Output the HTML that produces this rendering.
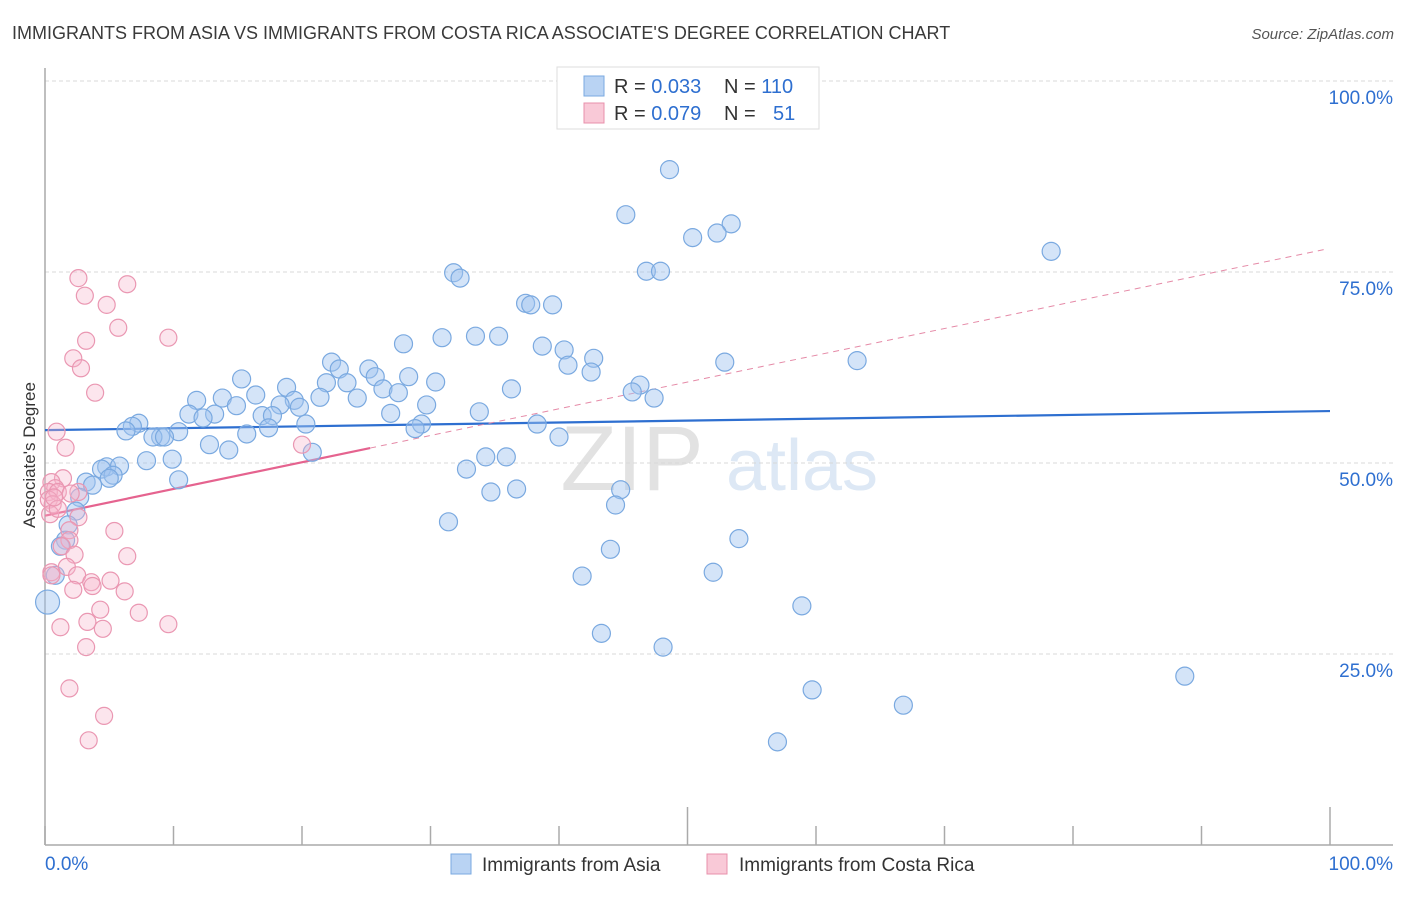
<!DOCTYPE html>
<html><head><meta charset="utf-8"><style>
body{margin:0;background:#fff;font-family:"Liberation Sans",sans-serif}
svg text{font-family:"Liberation Sans",sans-serif}
</style></head><body>
<svg id="chart" width="1406" height="892" viewBox="0 0 1406 892">
<text x="12" y="39" font-size="18" fill="#3a3a3a">IMMIGRANTS FROM ASIA VS IMMIGRANTS FROM COSTA RICA ASSOCIATE'S DEGREE CORRELATION CHART</text>
<text x="1394" y="39" font-size="15" fill="#555" font-style="italic" text-anchor="end">Source: ZipAtlas.com</text>
<g>
<text x="632" y="490" font-size="92" fill="#e2e2e2" font-family="Liberation Serif" text-anchor="middle">ZIP</text>
<text x="802" y="490" font-size="72" fill="#dde8f5" text-anchor="middle">atlas</text>
</g>
<g id="grid"></g>
<g id="axes"></g>
<g id="trend"></g>
<g id="pts"></g>
<text x="35" y="455" font-size="17" fill="#333" text-anchor="middle" transform="rotate(-90 35 455)">Associate's Degree</text>
<g>
<rect x="557" y="67" width="262" height="62" fill="#fff" stroke="#ddd"/>
<rect x="584" y="76" width="20" height="20" fill="#b9d3f3" stroke="#7aa9e0"/>
<rect x="584" y="103" width="20" height="20" fill="#f9c9d7" stroke="#e890ab"/>
<text x="614" y="93" font-size="20" fill="#333">R = <tspan fill="#2e6fd0">0.033</tspan><tspan x="724">N = </tspan><tspan fill="#2e6fd0">110</tspan></text>
<text x="614" y="120" font-size="20" fill="#333">R = <tspan fill="#2e6fd0">0.079</tspan><tspan x="724">N = </tspan><tspan fill="#2e6fd0" x="773">51</tspan></text>
</g>
<g>
<rect x="451" y="854" width="20" height="20" fill="#b9d3f3" stroke="#7aa9e0"/>
<text x="482" y="871" font-size="19" fill="#333">Immigrants from Asia</text>
<rect x="707" y="854" width="20" height="20" fill="#f9c9d7" stroke="#e890ab"/>
<text x="739" y="871" font-size="19" fill="#333">Immigrants from Costa Rica</text>
</g>
</svg>
<script>
const asiaX=[48.6,45.2,53.4,52.3,50.4,78.3,31.8,32.3,46.8,47.9,37.4,37.8,39.5,30.9,33.5,35.3,27.9,38.7,40.4,42.7,40.7,42.5,52.9,63.2,22.3,22.9,25.2,25.7,23.5,21.9,28.3,30.4,15.3,18.8,26.3,27.5,24.3,21.4,36.3,46.3,45.7,47.4,16.4,13.8,11.8,19.4,19.8,18.3,14.9,29.7,26.9,33.8,11.2,13.2,12.3,16.9,17.7,17.4,20.3,29.3,28.8,38.3,7.3,6.8,6.3,10.4,9.0,8.4,9.3,15.7,40.0,12.8,14.3,20.8,7.9,9.9,34.3,35.9,32.8,4.8,4.4,5.8,5.3,10.4,3.2,3.7,34.7,36.7,44.8,2.7,44.4,2.4,31.4,1.8,54.0,1.6,1.2,44.0,52.0,41.8,0.8,0.2,58.9,43.3,48.1,88.7,59.7,66.8,57.0,5.0];
const asiaY=[88.4,82.5,81.3,80.1,79.5,77.7,74.9,74.2,75.1,75.1,70.9,70.7,70.7,66.4,66.6,66.6,65.6,65.3,64.8,63.7,62.8,61.9,63.2,63.4,63.2,62.3,62.3,61.3,60.5,60.5,61.3,60.6,61.0,59.9,59.7,59.2,58.5,58.6,59.7,60.2,59.3,58.5,58.9,58.5,58.2,58.2,57.3,57.6,57.5,57.6,56.5,56.7,56.4,56.4,55.9,56.2,56.2,54.6,55.1,55.1,54.5,55.1,55.2,54.8,54.2,54.1,53.4,53.4,53.4,53.8,53.4,52.4,51.7,51.4,50.3,50.5,50.8,50.8,49.2,49.5,49.2,49.6,48.4,47.8,47.5,47.1,46.2,46.6,46.5,45.5,44.5,43.7,42.3,41.9,40.1,39.9,39.1,38.7,35.7,35.2,35.3,31.8,31.3,27.7,25.9,22.1,20.3,18.3,13.5,48.0];
const crX=[2.6,6.4,3.1,4.8,5.7,9.6,3.2,2.2,2.8,3.9,0.9,1.6,20.0,1.4,0.5,0.8,0.3,1.0,2.6,0.3,0.6,0.4,2.6,1.9,5.4,1.9,1.3,2.3,6.4,1.7,2.5,0.5,3.6,5.1,3.7,2.2,6.2,4.3,7.3,3.3,1.2,4.5,9.6,3.2,1.9,4.6,3.4,0.5,1.0,2.0,0.7];
const crY=[74.2,73.4,71.9,70.7,67.7,66.4,66.0,63.7,62.4,59.2,54.1,52.0,52.4,48.0,47.5,46.7,46.2,46.2,46.2,45.2,44.6,43.3,42.9,41.2,41.1,39.9,39.1,38.0,37.8,36.4,35.3,35.7,34.4,34.6,33.9,33.4,33.2,30.8,30.4,29.2,28.5,28.3,28.9,25.9,20.5,16.9,13.7,35.3,44.0,46.0,45.5];
const yTicks=[25,50,75,100];
const yTickLabels=["25.0%","50.0%","75.0%","100.0%"];
const xTicks=[0,10,20,30,40,50,60,70,80,90,100];
const asiaTrend=[54.3,56.8];
const crTrend=[43.1,0.35];
const NS="http://www.w3.org/2000/svg";
const X=v=>45+v*12.85, Y=v=>845-v*7.64;
function mk(tag,attrs,parent){const e=document.createElementNS(NS,tag);for(const k in attrs)e.setAttribute(k,attrs[k]);parent.appendChild(e);return e;}
const grid=document.getElementById('grid'),axes=document.getElementById('axes'),trend=document.getElementById('trend'),pts=document.getElementById('pts');
yTicks.forEach((t,i)=>{
 const l=mk('line',{x1:45,x2:1393,y1:Y(t),y2:Y(t),stroke:'#d8d8d8','stroke-dasharray':'4,3'},grid);
 
 
 const tx=mk('text',{x:1393,y:Y(t)+23,'font-size':19,fill:'#2e6fd0','text-anchor':'end'},grid);
 tx.textContent=yTickLabels[i];
 
 
});
let a=mk('line',{x1:45,x2:45,y1:68,y2:845,stroke:'#aaa','stroke-width':1.5},axes);


a=mk('line',{x1:45,x2:1393,y1:845,y2:845,stroke:'#aaa','stroke-width':1.5},axes);


xTicks.forEach(t=>{
 const big=(t===50||t===100);
 const l=mk('line',{x1:X(t),x2:X(t),y1:big?807:826,y2:845,stroke:'#aaa','stroke-width':1.5},axes);
 
 
});
let t0=mk('text',{x:45,y:870,'font-size':19,fill:'#2e6fd0'},axes);t0.textContent='0.0%';


let t1=mk('text',{x:1393,y:870,'font-size':19,fill:'#2e6fd0','text-anchor':'end'},axes);t1.textContent='100.0%';


function dot(x,y,fill,stroke,r,name){const c=mk('circle',{cx:X(x),cy:Y(y),r:r,fill:fill,stroke:stroke,'stroke-width':1.2},pts);
 
 }
asiaX.forEach((x,i)=>dot(x,asiaY[i],'rgba(160,196,240,0.45)','#7aa9e0',x<0.5?12:9,'point-asia'));
crX.forEach((x,i)=>dot(x,crY[i],'rgba(246,180,202,0.35)','#ea97b2',8.5,'point-costa-rica'));
let tl=mk('line',{x1:X(0),x2:X(100),y1:Y(asiaTrend[0]),y2:Y(asiaTrend[1]),stroke:'#2e6fd0','stroke-width':2.2},trend);


tl=mk('line',{x1:X(25.3),x2:X(99.6),y1:Y(crTrend[0]+crTrend[1]*25.3),y2:Y(crTrend[0]+crTrend[1]*99.6),stroke:'#e58aa7','stroke-width':1,'stroke-dasharray':'6,5'},trend);


tl=mk('line',{x1:X(0),x2:X(25.3),y1:Y(crTrend[0]),y2:Y(crTrend[0]+crTrend[1]*25.3),stroke:'#e5638f','stroke-width':2.2},trend);


</script>
</body></html>
